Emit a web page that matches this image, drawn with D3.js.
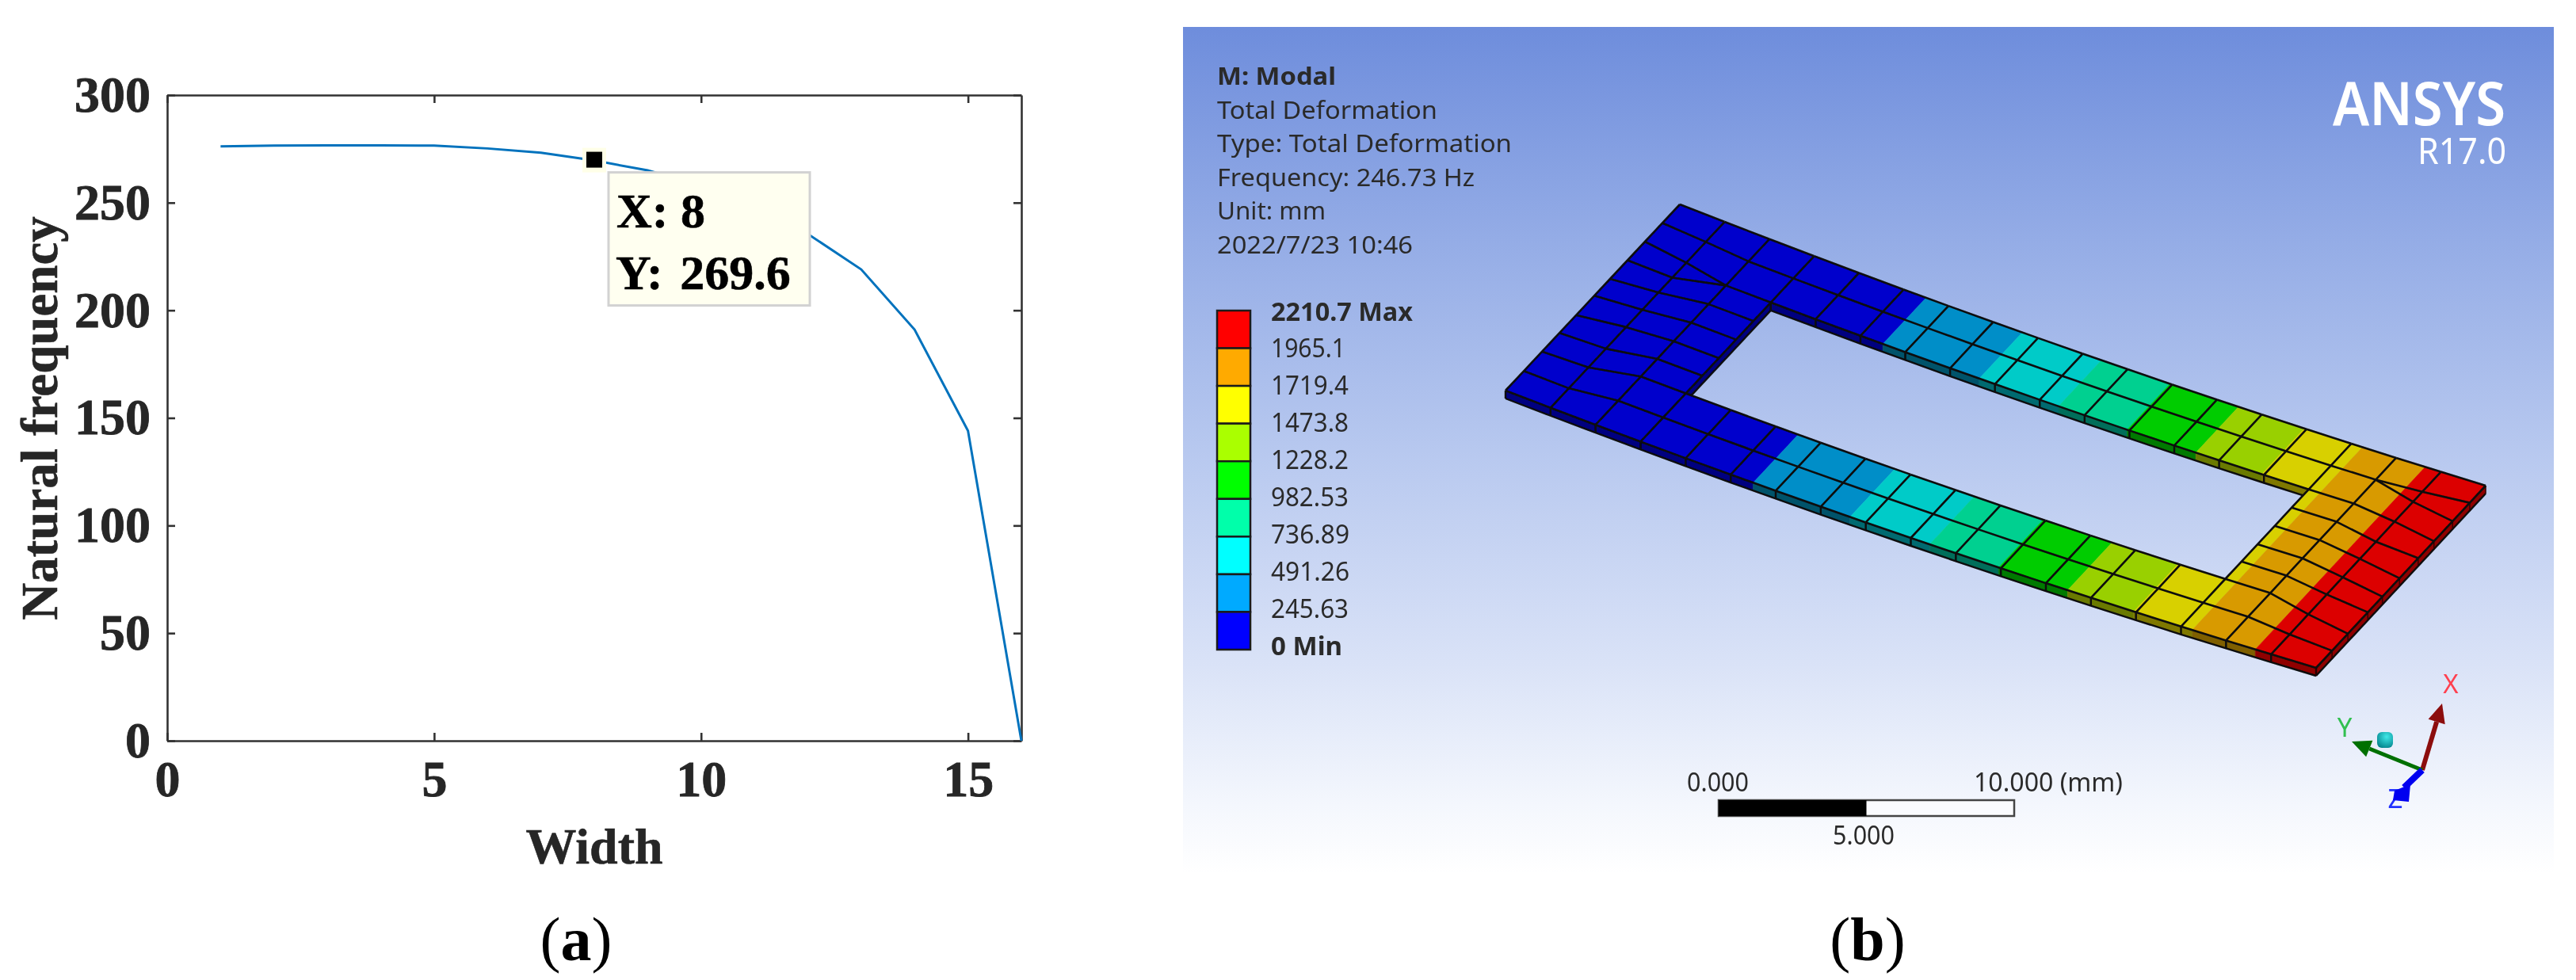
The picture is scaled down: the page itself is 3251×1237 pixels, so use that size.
<!DOCTYPE html>
<html>
<head>
<meta charset="utf-8">
<script src="https://cdn.jsdelivr.net/npm/d3@7"></script>
<style>
  html, body { margin: 0; padding: 0; background: #fff; }
  svg { display: block; }
  .axis text { font-family: "Liberation Serif", serif; font-weight: bold; font-size: 64px; fill: #262626; stroke: #262626; stroke-width: 0.8px; }
  .axis path, .axis line { stroke: #333; stroke-width: 2.6px; }
  .label { font-family: "Liberation Serif", serif; font-weight: bold; fill: #262626; stroke: #262626; stroke-width: 0.6px; }
  .ansys { font-family: "Noto Sans", sans-serif; fill: #2b2b2b; }
</style>
</head>
<body>
<svg id="fig" width="3251" height="1237"></svg>
<script>
// (a) natural frequency against width
const widths = [1, 2, 3, 4, 5, 6, 7, 8, 9, 10, 11, 12, 13, 14, 15, 16];
const frequencies = [276.2, 276.5, 276.6, 276.6, 276.5, 275.2, 273.2, 269.6, 265, 258, 248, 235.5, 219, 191, 144, 0];
const xTicks = [0, 5, 10, 15];
const yTicks = [0, 50, 100, 150, 200, 250, 300];

// (b) ANSYS result
const infoLines = ["M: Modal", "Total Deformation", "Type: Total Deformation", "Frequency: 246.73 Hz", "Unit: mm", "2022/7/23 10:46"];
const infoLengths = [150, 278, 372, 325, 137, 247];
const legendLabels = ["2210.7 Max", "1965.1", "1719.4", "1473.8", "1228.2", "982.53", "736.89", "491.26", "245.63", "0 Min"];
const legendLengths = [179, 94, 98, 98, 98, 98, 99, 99, 98, 90];
const legendColors = ["#ff0000", "#ffaa00", "#ffff00", "#aaff00", "#00ff00", "#00ffaa", "#00ffff", "#00aaff", "#0000ff"];
const surfaceColors = ["#0000cc", "#008ec8", "#00cbc8", "#00d090", "#00cc00", "#99d000", "#d8d000", "#d89a00", "#dc0000"];
const wallColors = ["#000080", "#00526b", "#006b6f", "#006e5a", "#007a00", "#6a7a00", "#7f7800", "#7f5f00", "#8f0000"];
// where each contour band starts and ends along the plate, in mesh columns
const bandEdges = [0, 5.5, 7.65, 9.42, 10.95, 12.48, 13.95, 15.25, 16.65, 18];
const scaleValues = [0, 5, 10];

// mesh of the plate: columns along the length, row fractions across the width
const columns = [0, 1, 2, 3, 4, 5, 6, 7, 8, 9, 10, 11, 12, 13, 14, 15, 16, 17, 18];
const rowsMiddle = [0, 0.12, 0.25, 0.35, 0.45, 0.55, 0.645, 0.74, 0.87, 1];
const rowsCol0 = [0, 0.1, 0.2, 0.3, 0.4, 0.49, 0.595, 0.69, 0.79, 0.895, 1];
const rowsCol1 = [0, 0.108, 0.22, 0.3, 0.38, 0.473, 0.566, 0.682, 0.783, 0.895, 1];
const rowsCol17 = [0, 0.109, 0.164, 0.273, 0.383, 0.477, 0.578, 0.672, 0.781, 0.891, 1];
const rowsCol18 = [0, 0.094, 0.195, 0.305, 0.398, 0.508, 0.609, 0.695, 0.8125, 0.906, 1];
const leftLink = [0, 1, 2, 2, 3, 4, 5, 6, 7, 8, 9];
const rightLink = [0, 1, 1, 2, 3, 4, 5, 6, 7, 8, 9];
const holeCols = [3, 15];

const svg = d3.select("#fig");
const defs = svg.append("defs");
defs.append("filter").attr("id", "soft").attr("x", "-2%").attr("y", "-2%").attr("width", "104%").attr("height", "104%")
    .append("feGaussianBlur").attr("stdDeviation", 0.7);

// ---------- panel a ----------
const x = d3.scaleLinear().domain([0, 16]).range([211, 1289]);
const y = d3.scaleLinear().domain([0, 300]).range([935, 120]);
const a = svg.append("g").attr("filter", "url(#soft)");

a.append("g").attr("class", "axis").attr("transform", "translate(0,935)")
    .call(d3.axisBottom(x).tickValues(xTicks).tickSize(-10).tickPadding(24).tickSizeOuter(0))
    .selectAll("text").attr("dy", "0.72em");
a.append("g").attr("class", "axis").attr("transform", "translate(211,0)")
    .call(d3.axisLeft(y).tickValues(yTicks).tickSize(-10).tickPadding(21).tickSizeOuter(0));
a.append("g").attr("class", "axis").attr("transform", "translate(0,120)")
    .call(d3.axisTop(x).tickValues(xTicks).tickSize(-10).tickFormat("").tickSizeOuter(0));
a.append("g").attr("class", "axis").attr("transform", "translate(1289,0)")
    .call(d3.axisRight(y).tickValues(yTicks).tickSize(-10).tickFormat("").tickSizeOuter(0));

a.append("path").datum(widths.map((w, i) => [w, frequencies[i]]))
    .attr("fill", "none").attr("stroke", "#0072bd").attr("stroke-width", 3)
    .attr("d", d3.line().x(d => x(d[0])).y(d => y(d[1])));

// data tip on point 8
const tipX = x(widths[7]), tipY = y(frequencies[7]);
a.append("rect").attr("x", tipX - 15).attr("y", tipY - 16).attr("width", 30).attr("height", 31).attr("fill", "#ffffe8");
a.append("rect").attr("x", tipX - 10).attr("y", tipY - 11).attr("width", 20).attr("height", 20).attr("fill", "#000");
a.append("rect").attr("x", tipX + 18).attr("y", tipY + 15).attr("width", 254).attr("height", 168)
    .attr("fill", "#fffff0").attr("stroke", "#d2d2d2").attr("stroke-width", 3);
a.append("text").attr("class", "label").attr("x", tipX + 28).attr("y", tipY + 84).attr("font-size", 62)
    .style("fill", "#000").style("stroke", "#000").text("X: " + widths[7]);
a.append("text").attr("class", "label").attr("x", tipX + 27).attr("y", tipY + 162).attr("font-size", 62)
    .style("fill", "#000").style("stroke", "#000").style("word-spacing", "6px").text("Y: " + frequencies[7]);

a.append("text").attr("class", "label").attr("x", 750).attr("y", 1090).attr("text-anchor", "middle").attr("font-size", 64).text("Width");
a.append("text").attr("class", "label").attr("transform", "translate(72,528) rotate(-90)").attr("text-anchor", "middle").attr("font-size", 65).text("Natural frequency");

svg.append("text").attr("x", 727).attr("y", 1212).attr("text-anchor", "middle")
    .style("font-family", "Liberation Serif").attr("font-size", 78).attr("fill", "#000")
    .html('(<tspan font-weight="bold">a</tspan>)');

// ---------- panel b ----------
const grad = defs.append("linearGradient").attr("id", "sky").attr("x1", 0).attr("y1", 0).attr("x2", 0).attr("y2", 1);
[[0, "#6e8ddc"], [0.25, "#94acE6"], [0.5, "#b7c8ef"], [0.75, "#d9e2f7"], [0.92, "#f4f7fd"], [1, "#ffffff"]]
    .forEach(s => grad.append("stop").attr("offset", s[0]).attr("stop-color", s[1]));
svg.append("rect").attr("x", 1493).attr("y", 34).attr("width", 1730).attr("height", 1068).attr("fill", "url(#sky)");

const b = svg.append("g").attr("filter", "url(#soft)");

b.selectAll("text.info").data(infoLines).enter().append("text").attr("class", "ansys info")
    .attr("x", 1536).attr("y", (d, i) => 107 + i * 42.6)
    .attr("font-size", 30).attr("font-weight", (d, i) => i === 0 ? "bold" : null)
    .attr("textLength", (d, i) => infoLengths[i]).attr("lengthAdjust", "spacingAndGlyphs")
    .text(d => d);

// colour legend
const legendY = d3.scaleBand().domain(legendColors).range([392, 820]);
b.selectAll("rect.swatch").data(legendColors).enter().append("rect").attr("class", "swatch")
    .attr("x", 1536).attr("width", 42).attr("y", d => legendY(d)).attr("height", legendY.bandwidth())
    .attr("fill", d => d).attr("stroke", "#1a1a1a").attr("stroke-width", 2.5);
const labelY = d3.scalePoint().domain(legendLabels).range([392.5, 815]);
b.selectAll("text.level").data(legendLabels).enter().append("text").attr("class", "ansys level")
    .attr("x", 1604).attr("y", d => labelY(d) + 12)
    .attr("font-size", 32).attr("font-weight", (d, i) => (i === 0 || i === 9) ? "bold" : null)
    .attr("textLength", (d, i) => legendLengths[i]).attr("lengthAdjust", "spacingAndGlyphs")
    .text(d => d);

// logo
b.append("text").attr("x", 3162).attr("y", 158).attr("text-anchor", "end").attr("font-size", 76).attr("font-weight", 600)
    .style("font-family", "Noto Sans").attr("fill", "#fff")
    .attr("textLength", 218).attr("lengthAdjust", "spacingAndGlyphs").text("ANSYS");
b.append("text").attr("x", 3163).attr("y", 207).attr("text-anchor", "end").attr("font-size", 46)
    .style("font-family", "Noto Sans").attr("fill", "#fff")
    .attr("textLength", 112).attr("lengthAdjust", "spacingAndGlyphs").text("R17.0");

// plate: model position (column, row fraction) to the picture, with the slight sag of the mode
const colT = d3.scaleLinear().domain([0, 18]).range([0, 1]);
const backX = d3.scaleLinear().domain([0, 1]).range([2120, 3137]);
const backY = d3.scaleLinear().domain([0, 1]).range([258, 613]);
const frontX = d3.scaleLinear().domain([0, 1]).range([1900, 2923]);
const frontY = d3.scaleLinear().domain([0, 1]).range([493, 843]);
const sag = 11, thickness = 10;
function plate(u, f) {
    const t = colT(u);
    const px = backX(t) + (frontX(t) - backX(t)) * f;
    const py = backY(t) + (frontY(t) - backY(t)) * f + sag * 4 * t * (1 - t);
    return [px, py];
}
const poly = d3.line();
const holeTop = rowsMiddle[2], holeBottom = rowsMiddle[7];

function rowsOf(c) {
    if (c === 0) return rowsCol0;
    if (c === 1) return rowsCol1;
    if (c === 17) return rowsCol17;
    if (c === 18) return rowsCol18;
    return rowsMiddle;
}

// side walls, split at the column lines and contour edges
function wallPieces(from, to, pointAt) {
    const cuts = d3.sort(Array.from(new Set([...columns, ...bandEdges].filter(c => c > from && c < to)).add(from).add(to)));
    return d3.pairs(cuts).map(p => ({ a: pointAt(p[0]), b: pointAt(p[1]), mid: (p[0] + p[1]) / 2 }));
}
const bandOf = u => Math.max(0, d3.bisectRight(bandEdges, u) - 1);
const walls = [
    ...wallPieces(0, 18, u => plate(u, 1)),
    ...wallPieces(holeCols[0], holeCols[1], u => plate(u, holeTop))
];
const wallG = b.append("g");
wallG.selectAll("path.wall").data(walls).enter().append("path").attr("class", "wall")
    .attr("d", d => poly([d.a, d.b, [d.b[0], d.b[1] + thickness], [d.a[0], d.a[1] + thickness]]) + "Z")
    .attr("fill", d => wallColors[bandOf(d.mid)]).attr("stroke", d => wallColors[bandOf(d.mid)]).attr("stroke-width", 0.6);
// end wall and the hole's near wall
const endA = plate(18, 0), endB = plate(18, 1);
wallG.append("path").attr("d", poly([endA, endB, [endB[0], endB[1] + thickness], [endA[0], endA[1] + thickness]]) + "Z").attr("fill", wallColors[8]);
const inA = plate(holeCols[0], holeTop), inB = plate(holeCols[0], holeBottom);
wallG.append("path").attr("d", poly([inA, inB, [inB[0], inB[1] + thickness], [inA[0], inA[1] + thickness]]) + "Z").attr("fill", wallColors[0]);
// wall outlines
const wallLines = [
    columns.map(c => { const p = plate(c, 1); return [p[0], p[1] + thickness]; }),
    columns.filter(c => c >= holeCols[0] && c <= holeCols[1]).map(c => { const p = plate(c, holeTop); return [p[0], p[1] + thickness]; }),
    [[endA[0], endA[1] + thickness], [endB[0], endB[1] + thickness]],
    [[inA[0], inA[1] + thickness], [inB[0], inB[1] + thickness]]
];
wallLines.forEach(l => wallG.append("path").attr("d", poly(l)).attr("fill", "none").attr("stroke", "#0a0a0a").attr("stroke-width", 2.4));
columns.forEach(c => {
    const p = plate(c, 1);
    wallG.append("path").attr("d", poly([p, [p[0], p[1] + thickness]])).attr("stroke", "#0a0a0a").attr("stroke-width", 2.4);
    if (c >= holeCols[0] && c <= holeCols[1]) {
        const q = plate(c, holeTop);
        wallG.append("path").attr("d", poly([q, [q[0], q[1] + thickness]])).attr("stroke", "#0a0a0a").attr("stroke-width", 2.4);
    }
});
rowsCol18.forEach(f => {
    const p = plate(18, f);
    wallG.append("path").attr("d", poly([p, [p[0], p[1] + thickness]])).attr("stroke", "#300000").attr("stroke-width", 1.5);
});

// top surface: contour bands clipped to the outline with the hole
const outer = [...columns.map(c => plate(c, 0)), ...columns.slice().reverse().map(c => plate(c, 1))];
const hc = columns.filter(c => c >= holeCols[0] && c <= holeCols[1]);
const inner = [...hc.map(c => plate(c, holeTop)), ...hc.slice().reverse().map(c => plate(c, holeBottom))];
defs.append("clipPath").attr("id", "plateClip").append("path")
    .attr("clip-rule", "evenodd").attr("d", poly(outer) + "Z" + poly(inner) + "Z");
const surf = b.append("g").attr("clip-path", "url(#plateClip)");
surf.selectAll("path.band").data(surfaceColors).enter().append("path").attr("class", "band")
    .attr("fill", d => d).attr("stroke", d => d).attr("stroke-width", 0.6)
    .attr("d", (d, i) => {
        const u0 = bandEdges[i], u1 = bandEdges[i + 1];
        const top = d3.range(u0, u1, 0.25).concat([u1]);
        return poly([...top.map(u => plate(u, -0.02)), ...top.slice().reverse().map(u => plate(u, 1.02))]) + "Z";
    });

// mesh lines
const mesh = b.append("g").attr("fill", "none").attr("stroke", "#0a0a0a").attr("stroke-width", 2.6);
columns.forEach(c => {
    const rows = rowsOf(c);
    const nodes = rows.map(f => plate(c, f));
    if (c <= holeCols[0] || c >= holeCols[1]) {
        mesh.append("path").attr("d", poly(nodes));
    } else {
        mesh.append("path").attr("d", poly(nodes.slice(0, 3)));
        mesh.append("path").attr("d", poly(nodes.slice(7)));
    }
});
d3.pairs(columns).forEach(([c0, c1]) => {
    const r0 = rowsOf(c0), r1 = rowsOf(c1);
    if (c0 === 16) {
        // ten rows start again here, two of them from one node
        rowsCol17.forEach((f, j) => {
            mesh.append("path").attr("d", poly([plate(16, rowsMiddle[rightLink[j]]), plate(17, f)]));
        });
        return;
    }
    r0.forEach((f, j) => {
        // rows 3 to 6 of the middle columns stop at the hole
        if (c0 >= holeCols[0] && c1 <= holeCols[1] && j > 2 && j < 7) return;
        const k = c0 === 1 ? leftLink[j] : j;
        mesh.append("path").attr("d", poly([plate(c0, f), plate(c1, r1[k])]));
    });
});

// scale bar
const scaleX = d3.scaleLinear().domain([0, 10]).range([2169, 2542]);
b.append("rect").attr("x", scaleX(0)).attr("y", 1010).attr("width", scaleX(10) - scaleX(0)).attr("height", 20)
    .attr("fill", "#fafbfe").attr("stroke", "#444").attr("stroke-width", 2.5);
b.append("rect").attr("x", scaleX(0)).attr("y", 1010).attr("width", scaleX(5) - scaleX(0)).attr("height", 20).attr("fill", "#000");
b.selectAll("text.sc").data(scaleValues).enter().append("text").attr("class", "ansys sc")
    .attr("x", d => d === 10 ? 2491 : d === 5 ? 2313 : 2129)
    .attr("y", d => d === 5 ? 1066 : 999).attr("font-size", 32)
    .attr("textLength", d => d === 10 ? 188 : 78).attr("lengthAdjust", "spacingAndGlyphs")
    .text(d => d3.format(".3f")(d) + (d === 10 ? " (mm)" : ""));

// triad
const triad = b.append("g").attr("transform", "translate(3057,972)");
const axesTriad = [
    { name: "X", tip: [25, -84], col: "#8c0a0a", text: "#ff4050", lab: [36, -109], w: 6 },
    { name: "Y", tip: [-89, -36], col: "#007000", text: "#30c050", lab: [-98, -54], w: 5 }
];
axesTriad.forEach(t => {
    const len = Math.hypot(t.tip[0], t.tip[1]), ux = t.tip[0] / len, uy = t.tip[1] / len;
    const bx = t.tip[0] - ux * 24, by = t.tip[1] - uy * 24;
    triad.append("path").attr("d", poly([[0, 0], [bx, by]])).attr("stroke", t.col).attr("stroke-width", t.w);
    triad.append("path").attr("d", poly([t.tip, [bx - uy * 11, by + ux * 11], [bx + uy * 11, by - ux * 11]]) + "Z").attr("fill", t.col);
    triad.append("text").attr("x", t.lab[0]).attr("y", t.lab[1] + 12).attr("text-anchor", "middle")
        .attr("font-size", 33).style("font-family", "Noto Sans").attr("fill", t.text).text(t.name);
});
triad.append("text").attr("x", -34).attr("y", 48).attr("text-anchor", "middle").attr("font-size", 33)
    .style("font-family", "Noto Sans").attr("fill", "#2030ff").text("Z");
triad.append("path").attr("d", poly([[0, 0], [-23, 22]])).attr("stroke", "#0000f0").attr("stroke-width", 8);
triad.append("path").attr("d", poly([[-15, 18], [-17, 40], [-37, 38], [-35, 26]]) + "Z").attr("fill", "#0000f0");
const ballGrad = defs.append("radialGradient").attr("id", "ball").attr("cx", "0.6").attr("cy", "0.3").attr("r", "0.8");
ballGrad.append("stop").attr("offset", 0).attr("stop-color", "#40e8e8");
ballGrad.append("stop").attr("offset", 1).attr("stop-color", "#007f88");
triad.append("rect").attr("x", -57).attr("y", -48).attr("width", 20).attr("height", 20).attr("rx", 6).attr("fill", "url(#ball)");

svg.append("text").attr("x", 2357).attr("y", 1212).attr("text-anchor", "middle")
    .style("font-family", "Liberation Serif").attr("font-size", 78).attr("fill", "#000")
    .html('(<tspan font-weight="bold">b</tspan>)');
</script>
</body>
</html>
